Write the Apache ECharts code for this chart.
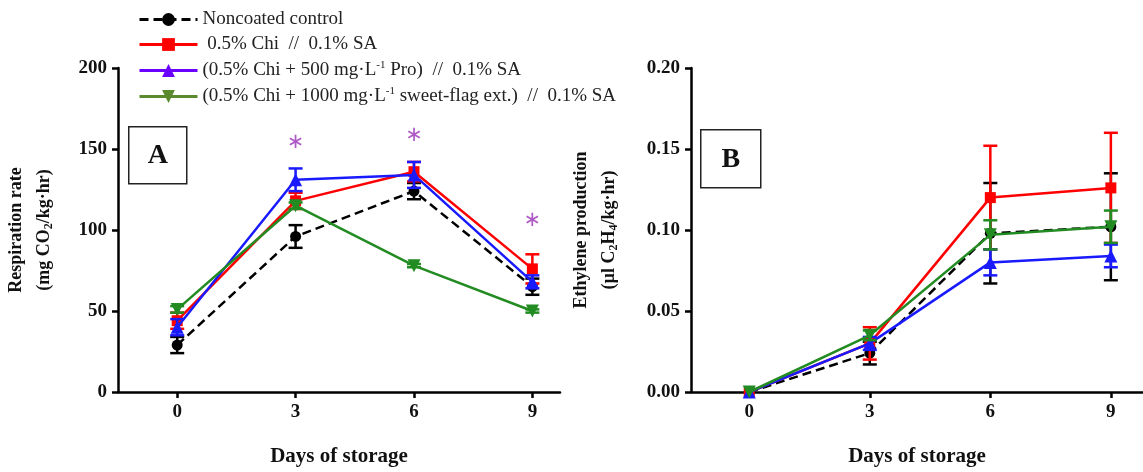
<!DOCTYPE html>
<html><head><meta charset="utf-8">
<script src="https://cdn.jsdelivr.net/npm/echarts@6/dist/echarts.min.js"></script>
<style>html,body{margin:0;padding:0;background:#fff}#c{width:1143px;height:472px}</style>
</head><body><div id="c"></div>
<script>
// ---- data ----
const days = [0, 3, 6, 9];
const seriesNames = [
  'Noncoated control',
  ' 0.5% Chi  //  0.1% SA',
  '(0.5% Chi + 500 mg·L-1 Pro)  //  0.1% SA',
  '(0.5% Chi + 1000 mg·L-1 sweet-flag ext.)  //  0.1% SA'
];
// Panel A: respiration rate (mg CO2/kg·hr)
const respControl = [29, 96, 124, 65];
const respControlErr = [5, 7, 5, 5];
const respChi = [44, 118, 136, 76];
const respChiErr = [5, 5, 6, 9];
const respPro = [40, 131, 134, 68];
const respProErr = [5, 7, 8, 4];
const respSweet = [51, 115, 78, 50];
const respSweetErr = [2, 2, 1, 1];
const respStars = [[3, 154], [6, 158], [9, 106]];
// Panel B: ethylene production (µl C2H4/kg·hr)
const ethControl = [0, 0.024, 0.098, 0.102];
const ethControlErr = [0, 0.007, 0.031, 0.033];
const ethChi = [0, 0.030, 0.120, 0.126];
const ethChiErr = [0, 0.010, 0.032, 0.034];
const ethPro = [0, 0.030, 0.080, 0.084];
const ethProErr = [0, 0.004, 0.008, 0.007];
const ethSweet = [0, 0.035, 0.097, 0.102];
const ethSweetErr = [0, 0.003, 0.009, 0.010];
const dayTicks = [0, 3, 6, 9];

// ---- styles ----
const FONT = '"Liberation Serif", "DejaVu Serif", serif';
const colors = ['#000000', '#ff0000', '#1a1aff', '#228b22'];
const legendColors = ['#000000', '#ff0000', '#6a00ff', '#5b8a2e'];
const symbols = ['circle', 'rect', 'triangle', 'path://M0,0 L10,0 L5,10 Z'];
const symSizes = [11, 11, 13, 13];

function pairs(vals) { return days.map((d, i) => [d, vals[i]]); }
function errData(vals, errs) { return days.map((d, i) => [d, vals[i] - errs[i], vals[i] + errs[i]]); }

function lineSeries(idx, vals, axisIdx) {
  return {
    type: 'line', name: seriesNames[idx], xAxisIndex: axisIdx, yAxisIndex: axisIdx,
    data: pairs(vals), symbol: symbols[idx], symbolSize: symSizes[idx],
    lineStyle: { color: colors[idx], width: 2.5, type: idx === 0 ? [9, 5] : 'solid' },
    itemStyle: { color: colors[idx] },
    emphasis: { disabled: true },
    z: 3 + idx, animation: false
  };
}
function errSeries(idx, vals, errs, axisIdx) {
  return {
    type: 'custom', name: seriesNames[idx] + ' err', xAxisIndex: axisIdx, yAxisIndex: axisIdx,
    data: errData(vals, errs), z: 3 + idx, animation: false, silent: true,
    renderItem: function (params, api) {
      const x = api.value(0), lo = api.value(1), hi = api.value(2);
      if (hi - lo <= 0) return null;
      const p1 = api.coord([x, lo]), p2 = api.coord([x, hi]);
      const w = 7;
      const st = { stroke: colors[idx], lineWidth: 2.5 };
      return { type: 'group', children: [
        { type: 'line', shape: { x1: p1[0], y1: p1[1], x2: p2[0], y2: p2[1] }, style: st },
        { type: 'line', shape: { x1: p1[0] - w, y1: p1[1], x2: p1[0] + w, y2: p1[1] }, style: st },
        { type: 'line', shape: { x1: p2[0] - w, y1: p2[1], x2: p2[0] + w, y2: p2[1] }, style: st }
      ] };
    }
  };
}

const tickLabel = { fontFamily: FONT, fontWeight: 'bold', fontSize: 19, color: '#111' };

function xAxisDef(gridIndex, min, max) {
  return {
    type: 'value', gridIndex, min, max,
    axisLine: { show: true, onZero: false, lineStyle: { color: '#000', width: 2.5 } },
    splitLine: { show: false },
    axisTick: { show: true, customValues: dayTicks, length: 6, lineStyle: { width: 2.5, color: '#000' } },
    axisLabel: Object.assign({ customValues: dayTicks, margin: 11 }, tickLabel),
    name: 'Days of storage', nameLocation: 'middle', nameGap: 54,
    nameTextStyle: { fontFamily: FONT, fontWeight: 'bold', fontSize: 21, color: '#111' }
  };
}
function yAxisDef(gridIndex, max, interval, fmt, nameRich, nameGap) {
  return {
    type: 'value', gridIndex, min: 0, max, interval,
    axisLine: { show: true, onZero: false, lineStyle: { color: '#000', width: 2.5 } },
    splitLine: { show: false },
    axisTick: { show: true, length: 6, lineStyle: { width: 2.5, color: '#000' } },
    axisLabel: Object.assign({ formatter: fmt, margin: 11 }, tickLabel),
    name: nameRich, nameLocation: 'middle', nameGap, nameRotate: 90,
    nameTextStyle: {
      fontFamily: FONT, fontWeight: 'bold', fontSize: 18, color: '#111', lineHeight: 28,
      rich: {
        b: { fontFamily: FONT, fontWeight: 'bold', fontSize: 18, color: '#111', lineHeight: 28 },
        s: { fontFamily: FONT, fontWeight: 'bold', fontSize: 12, color: '#111', padding: [9, 0, 0, 0], lineHeight: 28 }
      }
    }
  };
}

const option = {
  backgroundColor: '#fff',
  animation: false,
  grid: [
    { left: 118, top: 68, width: 442, height: 325 },
    { left: 691, top: 68, width: 460, height: 324 }
  ],
  xAxis: [xAxisDef(0, -1.5, 9.7), xAxisDef(1, -1.45, 9.8)],
  yAxis: [
    yAxisDef(0, 200, 50, v => String(v), '{b|Respiration rate}\n{b|(mg CO}{s|2}{b|/kg·hr)}', 60),
    yAxisDef(1, 0.2, 0.05, v => v.toFixed(2), '{b|Ethylene production}\n{b|(µl C}{s|2}{b|H}{s|4}{b|/kg·hr)}', 68)
  ],
  legend: {
    data: seriesNames.map((n, i) => ({
      name: n,
      itemStyle: { color: legendColors[i] },
      lineStyle: { color: legendColors[i], width: 3, type: i === 0 ? [9, 5] : 'solid' }
    })),
    orient: 'vertical', left: 133, top: 5, itemGap: 6,
    itemWidth: 58, itemHeight: 16,
    formatter: function (name) {
      return name.replace('L-1', 'L{sup|-1}');
    },
    textStyle: {
      fontFamily: FONT, fontSize: 19, color: '#222',
      rich: { sup: { fontFamily: FONT, fontSize: 11, color: '#222', padding: [0, 0, 10, 0] } }
    }
  },
  graphic: [
    { type: 'group', left: 128, top: 126, children: [
      { type: 'rect', shape: { width: 58, height: 57 }, style: { fill: '#fff', stroke: '#222', lineWidth: 1.5 } },
      { type: 'text', x: 29, y: 29, style: { text: 'A', font: 'bold 28px ' + FONT, fill: '#111', align: 'center', verticalAlign: 'middle' } }
    ] },
    { type: 'group', left: 700, top: 129, children: [
      { type: 'rect', shape: { width: 60, height: 58 }, style: { fill: '#fff', stroke: '#222', lineWidth: 1.5 } },
      { type: 'text', x: 30, y: 30, style: { text: 'B', font: 'bold 28px ' + FONT, fill: '#111', align: 'center', verticalAlign: 'middle' } }
    ] }
  ],
  series: [
    errSeries(0, respControl, respControlErr, 0),
    errSeries(1, respChi, respChiErr, 0),
    errSeries(2, respPro, respProErr, 0),
    errSeries(3, respSweet, respSweetErr, 0),
    lineSeries(0, respControl, 0),
    lineSeries(1, respChi, 0),
    lineSeries(2, respPro, 0),
    lineSeries(3, respSweet, 0),
    errSeries(0, ethControl, ethControlErr, 1),
    errSeries(1, ethChi, ethChiErr, 1),
    errSeries(2, ethPro, ethProErr, 1),
    errSeries(3, ethSweet, ethSweetErr, 1),
    lineSeries(0, ethControl, 1),
    lineSeries(1, ethChi, 1),
    lineSeries(2, ethPro, 1),
    lineSeries(3, ethSweet, 1),
    {
      type: 'scatter', name: 'significance', xAxisIndex: 0, yAxisIndex: 0,
      data: respStars, symbolSize: 1, itemStyle: { color: 'rgba(0,0,0,0)' },
      label: { show: true, formatter: '∗', position: 'inside', fontSize: 21, color: '#9b30b8', fontFamily: '"DejaVu Sans", sans-serif' },
      animation: false, silent: true
    }
  ]
};
const chart = echarts.init(document.getElementById('c'), null, { renderer: 'canvas' });
chart.setOption(option);
</script></body></html>
